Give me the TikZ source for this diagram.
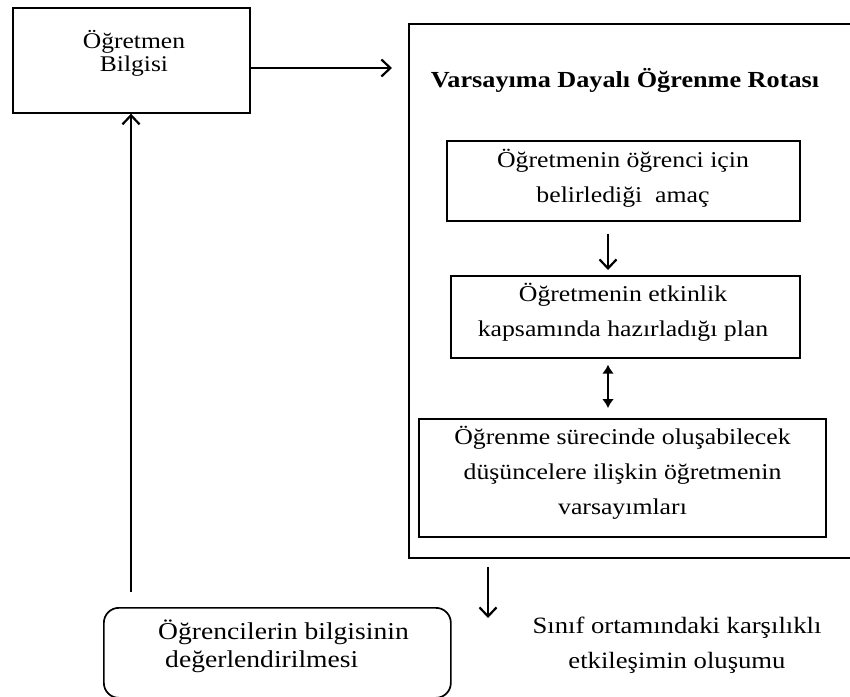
\documentclass[tikz,border=0pt]{standalone}
\usepackage{fontspec}
\setmainfont{Liberation Serif}
\newfontfamily\wideserif[FakeStretch=1.14]{Liberation Serif}
\usetikzlibrary{arrows.meta}

\begin{document}
\begin{tikzpicture}[x=1pt,y=-1pt,
  box/.style={draw, line width=1.7pt, inner sep=0pt, anchor=north west},
  txt/.style={align=center, inner sep=0pt, font=\wideserif\fontsize{22.6}{35}\selectfont},
  arr/.style={line width=2.2pt, -{Straight Barb[length=9pt,width=17pt]}},
  dblarr/.style={line width=2.2pt, {Latex[length=9pt,width=12pt]}-{Latex[length=9pt,width=12pt]}}
]
\useasboundingbox (0,0) rectangle (850,696);

% boxes
\node[box, minimum width=237pt, minimum height=105pt] (teacher) at (12,7) {};
\node[box, minimum width=470pt, minimum height=534pt] (route) at (408,23) {};
\node[box, minimum width=353pt, minimum height=80pt] (goal) at (446,140) {};
\node[box, minimum width=349pt, minimum height=82pt] (plan) at (450,275) {};
\node[box, minimum width=407pt, minimum height=118pt] (assume) at (418,418) {};
\node[box, rounded corners=15pt, minimum width=347pt, minimum height=90pt] (eval) at (103,607) {};

% texts
\node[txt, font=\wideserif\fontsize{22.4}{23}\selectfont] (teachertxt) at (134,53) {Öğretmen\\Bilgisi};
\node[txt, font=\wideserif\bfseries\fontsize{23}{26}\selectfont] (title) at (625,80) {Varsayıma Dayalı Öğrenme Rotası};
\node[txt] (goaltxt) at (623,178.5) {Öğretmenin öğrenci için\\belirlediği~ amaç};
\node[txt] (plantxt) at (623,312.5) {Öğretmenin etkinlik\\kapsamında hazırladığı plan};
\node[txt] (assumetxt) at (622.5,473) {Öğrenme sürecinde oluşabilecek\\düşüncelere ilişkin öğretmenin\\varsayımları};
\node[txt, align=left, font=\wideserif\fontsize{24.2}{28}\selectfont] (evaltxt) at (283.5,646) {Öğrencilerin bilgisinin\\\hspace*{7pt}değerlendirilmesi};
\node[txt, font=\wideserif\fontsize{23.4}{35}\selectfont] (classtxt) at (677,645.5) {Sınıf ortamındaki karşılıklı\\etkileşimin oluşumu};

% guide coordinates for the connectors
\coordinate (ay) at (0,68);
\coordinate (mx) at (608,0);
\coordinate (lx) at (131,0);
\coordinate (dx) at (488,0);
\coordinate (classend) at (488,618);

% connectors
\draw[arr, shorten >=16pt] (teacher.east |- ay) -- (route.west |- ay);
\draw[arr, shorten <=12pt, shorten >=5pt] (goal.south -| mx) -- (plan.north -| mx);
\draw[dblarr, shorten <=6pt, shorten >=10pt] (plan.south -| mx) -- (assume.north -| mx);
\draw[arr, shorten <=8pt] (route.south -| dx) -- (classend);
\draw[arr, shorten <=15pt] (eval.north -| lx) -- (teacher.south -| lx);
\end{tikzpicture}
\end{document}
